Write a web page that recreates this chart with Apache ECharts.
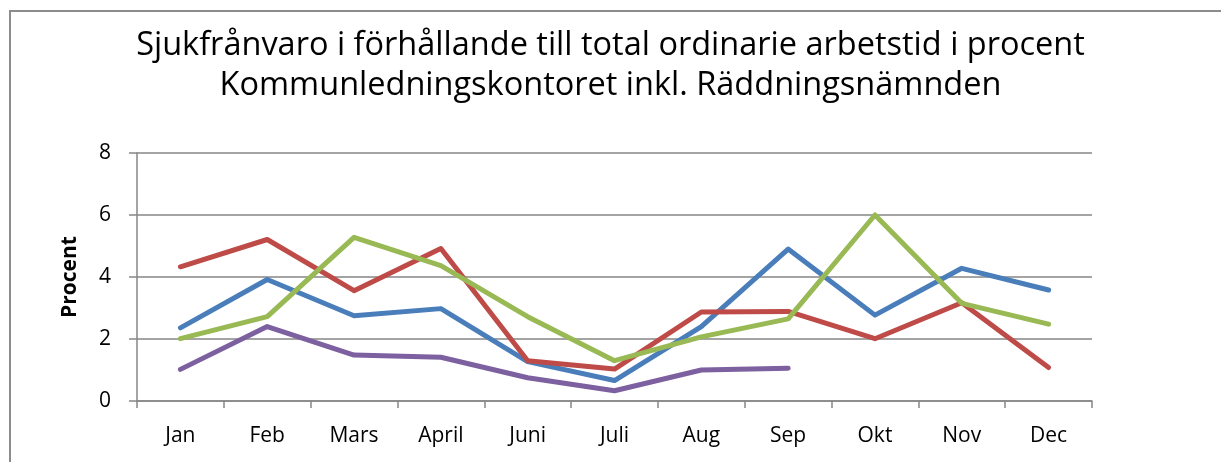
<!DOCTYPE html>
<html>
<head>
<meta charset="utf-8">
<script src="https://cdn.jsdelivr.net/npm/echarts@6/dist/echarts.min.js"></script>
<style>
html,body{margin:0;padding:0;background:#fff;}
#c{width:1221px;height:462px;}
</style>
</head>
<body>
<div id="c"></div>
<script>
const categories = ['Jan','Feb','Mars','April','Juni','Juli','Aug','Sep','Okt','Nov','Dec'];
const blueValues = [2.36,3.92,2.75,2.98,1.27,0.66,2.4,4.9,2.77,4.28,3.58];
const redValues = [4.33,5.21,3.56,4.92,1.3,1.03,2.87,2.89,2.01,3.17,1.08];
const greenValues = [2.01,2.72,5.28,4.37,2.72,1.3,2.07,2.65,6.0,3.15,2.48];
const purpleValues = [1.02,2.4,1.48,1.41,0.75,0.33,1.0,1.06,null,null,null];
const yTicks = [0,2,4,6,8];

const titleText = 'Sjukfrånvaro i förhållande till total ordinarie arbetstid i procent\nKommunledningskontoret inkl. Räddningsnämnden';
const font = '"Open Sans", sans-serif';
const chart = echarts.init(document.getElementById('c'), null, {renderer:'canvas'});
function mk(name, data, color){
  return {name, type:'line', data, symbol:'none', connectNulls:false,
    lineStyle:{color, width:5, cap:'round', join:'round'}, itemStyle:{color}};
}
chart.setOption({
  animation:false,
  backgroundColor:'#fff',
  graphic:[{type:'rect', shape:{x:10,y:11,width:1230,height:470}, style:{fill:'none', stroke:'#8c8c8c', lineWidth:2}, silent:true}],
  title:{text:titleText, left:'center', top:21, textStyle:{fontFamily:font, fontSize:32.5, fontWeight:'normal', color:'#000', lineHeight:40}},
  grid:{left:137, right:129, top:153, bottom:61},
  xAxis:{type:'category', data:categories, boundaryGap:true,
    axisLine:{lineStyle:{color:'#868686', width:1.5}},
    axisTick:{show:true, length:7, lineStyle:{color:'#868686', width:1.5}},
    axisLabel:{color:'#000', fontFamily:font, fontSize:21, margin:25}},
  yAxis:{type:'value', min:0, max:8, interval:2,
    name:'Procent', nameLocation:'middle', nameGap:56,
    nameTextStyle:{fontFamily:font, fontSize:21, fontWeight:'bold', color:'#000'},
    axisLine:{show:true, lineStyle:{color:'#868686', width:1.5}},
    axisTick:{show:true, length:8, lineStyle:{color:'#868686', width:1.5}},
    axisLabel:{color:'#000', fontFamily:font, fontSize:21, margin:26, formatter:v=>yTicks.includes(v)?String(v):''},
    splitLine:{lineStyle:{color:'#868686', width:1.5}}},
  series:[
    mk('Blå', blueValues, '#4a7ebb'),
    mk('Röd', redValues, '#be4b48'),
    mk('Grön', greenValues, '#98b954'),
    mk('Lila', purpleValues, '#7d60a0')
  ]
});
</script>
</body>
</html>
